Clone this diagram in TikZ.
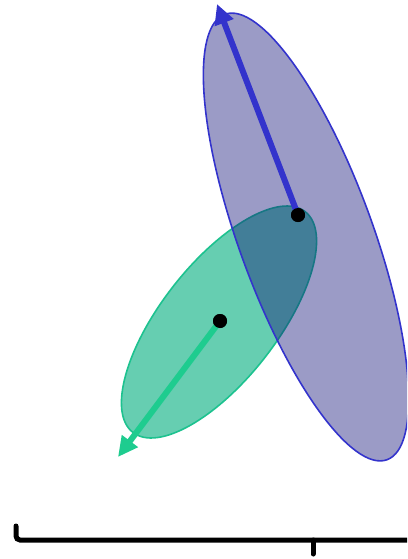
\documentclass[tikz,border=0pt]{standalone}
\usetikzlibrary{shapes.geometric,arrows.meta}
\definecolor{purpleline}{RGB}{51,51,204}
\definecolor{purplefill}{RGB}{17,17,119}
\definecolor{greenline}{RGB}{29,194,143}
\definecolor{greenfill}{RGB}{102,206,177}
\definecolor{greenarrow}{RGB}{30,204,143}
\tikzset{
  blob/.style={ellipse, inner sep=0pt, line width=1.6pt},
  dotmark/.style={circle, fill=black, inner sep=0pt, minimum size=14pt},
  vec/.style={line width=6pt, -{Triangle[length=20pt,width=19pt]}},
}
\begin{document}
\begin{tikzpicture}[x=1pt,y=-1pt]
\useasboundingbox (0,0) rectangle (407,559);
\clip (0,0) rectangle (407,559);
% green ellipse
\node[blob, draw=greenline, fill=greenfill, minimum width=280pt, minimum height=116pt, rotate=52] (G) at (219,322) {};
\node[dotmark] (gd) at (220,321) {};
\coordinate (gt) at (118,457);
\draw[vec, greenarrow] (gd.center) -- (gt);
\node[dotmark] at (220,321) {};
% purple ellipse
\node[blob, draw=purpleline, fill=purplefill, fill opacity=0.42, minimum width=474pt, minimum height=134pt, rotate=-70] (P) at (306,237) {};
\node[dotmark] (pd) at (298,215) {};
\coordinate (pt) at (217,4);
\draw[vec, purpleline] (pd.center) -- (pt);
\node[dotmark] at (298,215) {};
% bracket
\draw[line width=5pt, rounded corners=4pt, line cap=round] (16,526) -- (16,540) -- (420,540);
\draw[line width=5pt, line cap=round] (313,540) -- (313,554);
\end{tikzpicture}
\end{document}
